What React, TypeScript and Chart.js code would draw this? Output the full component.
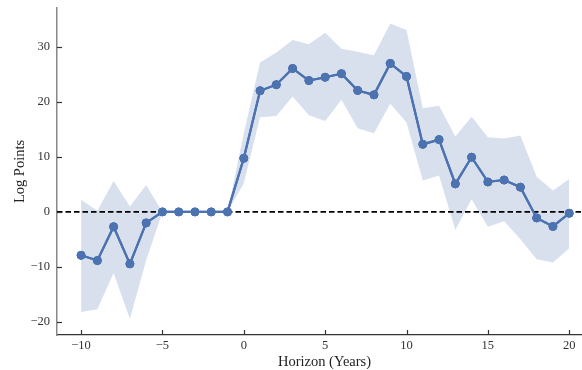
import React, { useEffect, useRef } from 'react';
import { Chart, registerables } from 'chart.js';

Chart.register(...registerables);

const horizons = [-10, -9, -8, -7, -6, -5, -4, -3, -2, -1, 0, 1, 2, 3, 4, 5, 6, 7, 8, 9, 10, 11, 12, 13, 14, 15, 16, 17, 18, 19, 20];
const estimate = [-7.9, -8.85, -2.7, -9.45, -2.0, 0, 0, 0, 0, 0, 9.75, 22.05, 23.15, 26.1, 23.9, 24.5, 25.15, 22.1, 21.3, 27.0, 24.65, 12.3, 13.15, 5.1, 9.95, 5.45, 5.8, 4.5, -1.1, -2.65, -0.25];
const ciUpper = [2.2, 0.2, 5.6, 1.0, 4.9, 0, 0, 0, 0, 0, 14.3, 27.2, 29.0, 31.3, 30.5, 32.6, 29.7, 29.15, 28.5, 34.3, 33.1, 18.85, 19.3, 13.7, 17.3, 13.6, 13.35, 13.9, 6.4, 3.9, 6.0];
const ciLower = [-18.2, -17.7, -11.1, -19.5, -8.8, 0, 0, 0, 0, 0, 5.2, 17.2, 17.45, 21.0, 17.6, 16.55, 20.4, 15.2, 14.3, 19.7, 16.25, 5.7, 6.6, -3.3, 2.3, -2.7, -1.7, -5.0, -8.6, -9.2, -6.6];
const xTicks = [-10, -5, 0, 5, 10, 15, 20];
const yTicks = [-20, -10, 0, 10, 20, 30];
const xLabel = 'Horizon (Years)';
const yLabel = 'Log Points';
const referenceLevel = 0;

const X_MIN = -11.48;
const X_MAX = 21.4;
const Y_MIN = -22.4;
const Y_MAX = 37.1;

const BLUE = '#4c72b0';
const BAND = 'rgba(76,114,176,0.22)';
const FONT = "'Liberation Serif', 'DejaVu Serif', serif";

const fmt = (v: number) => (v < 0 ? '\u2212' + Math.abs(v) : String(v));

const innerTicks = {
  id: 'innerTicks',
  afterDraw(chart: any) {
    const { ctx, chartArea, scales } = chart;
    ctx.save();
    ctx.strokeStyle = '#333';
    ctx.lineWidth = 1.2;
    for (const v of yTicks) {
      const y = Math.round(scales.y.getPixelForValue(v)) + 0.5;
      ctx.beginPath();
      ctx.moveTo(chartArea.left, y);
      ctx.lineTo(chartArea.left + 5, y);
      ctx.stroke();
    }
    for (const v of xTicks) {
      const x = Math.round(scales.x.getPixelForValue(v)) + 0.5;
      ctx.beginPath();
      ctx.moveTo(x, chartArea.bottom);
      ctx.lineTo(x, chartArea.bottom - 5);
      ctx.stroke();
    }
    ctx.restore();
  },
};

const zeroLine = {
  id: 'zeroLine',
  afterDatasetsDraw(chart: any) {
    const { ctx, chartArea, scales } = chart;
    const y = scales.y.getPixelForValue(referenceLevel);
    ctx.save();
    ctx.strokeStyle = '#000';
    ctx.lineWidth = 1.8;
    ctx.setLineDash([5.5, 3]);
    ctx.beginPath();
    ctx.moveTo(chartArea.left, y);
    ctx.lineTo(chartArea.right, y);
    ctx.stroke();
    ctx.restore();
    const meta = chart.getDatasetMeta(0);
    meta.controller.draw();
  },
};

export default function App() {
  const ref = useRef<HTMLCanvasElement>(null);
  useEffect(() => {
    if (!ref.current) return;
    const pts = (arr: number[]) => horizons.map((h, i) => ({ x: h, y: arr[i] }));
    const chart = new Chart(ref.current, {
      type: 'line',
      data: {
        datasets: [
          {
            data: pts(estimate),
            borderColor: BLUE,
            backgroundColor: BLUE,
            pointBackgroundColor: BLUE,
            pointBorderColor: BLUE,
            pointRadius: 4,
            pointBorderWidth: 1,
            borderWidth: 2.2,
            tension: 0,
            fill: false,
            clip: false,
          },
          {
            data: pts(ciUpper),
            borderWidth: 0,
            borderColor: 'rgba(0,0,0,0)',
            backgroundColor: BAND,
            pointRadius: 0,
            fill: '+1',
            tension: 0,
          },
          {
            data: pts(ciLower),
            borderWidth: 0,
            borderColor: 'rgba(0,0,0,0)',
            backgroundColor: BAND,
            pointRadius: 0,
            fill: false,
            tension: 0,
          },
        ],
      },
      options: {
        animation: false,
        responsive: false,
        devicePixelRatio: 1,
        layout: { padding: { top: 8, right: 0, left: 0, bottom: 0 } },
        plugins: { legend: { display: false }, tooltip: { enabled: false } },
        scales: {
          x: {
            type: 'linear',
            min: X_MIN,
            max: X_MAX,
            afterBuildTicks: (s: any) => {
              s.ticks = xTicks.map((v) => ({ value: v }));
            },
            afterFit: (s: any) => {
              s.height = 35;
              s.paddingLeft = 0;
              s.paddingRight = 0;
            },
            grid: { display: true, drawOnChartArea: false, drawTicks: false },
            border: { display: true, color: '#333', width: 1.3 },
            ticks: {
              callback: (v: any) => fmt(Number(v)),
              font: { family: FONT, size: 12.5 },
              color: '#333',
              padding: 3,
              maxRotation: 0,
            },
            title: {
              display: true,
              text: xLabel,
              font: { family: FONT, size: 14.5 },
              color: '#222',
              padding: { top: 0, bottom: -1 },
            },
          },
          y: {
            type: 'linear',
            min: Y_MIN,
            max: Y_MAX,
            afterBuildTicks: (s: any) => {
              s.ticks = yTicks.map((v) => ({ value: v }));
            },
            afterFit: (s: any) => {
              s.width = 57;
              s.paddingTop = 0;
              s.paddingBottom = 0;
            },
            grid: { display: true, drawOnChartArea: false, drawTicks: false },
            border: { display: true, color: '#888', width: 1.5 },
            ticks: {
              callback: (v: any) => fmt(Number(v)),
              font: { family: FONT, size: 12.5 },
              color: '#333',
              padding: 7,
            },
            title: {
              display: true,
              text: yLabel,
              font: { family: FONT, size: 14.5 },
              color: '#222',
              padding: { top: 11.5, bottom: 0 },
            },
          },
        },
      },
      plugins: [innerTicks, zeroLine],
    });
    return () => chart.destroy();
  }, []);
  return (
    <div style={{ position: 'fixed', left: 0, top: 0, width: 582, height: 370, overflow: 'hidden', background: '#fff' }}>
      <canvas ref={ref} width={597} height={370} style={{ width: 597, height: 370, display: 'block' }} />
    </div>
  );
}
